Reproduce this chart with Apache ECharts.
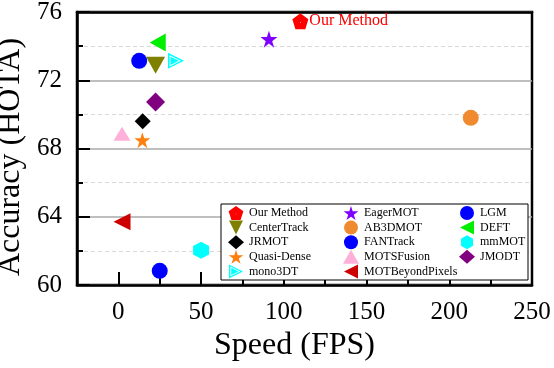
<!DOCTYPE html>
<html>
<head>
<meta charset="utf-8">
<script src="https://cdn.jsdelivr.net/npm/echarts@6/dist/echarts.min.js"></script>
<style>
  html, body { margin: 0; padding: 0; background: #fff; }
  #chart { width: 554px; height: 368px; }
</style>
</head>
<body>
<div id="chart"></div>
<script>
// 方法名、速度(FPS)、精度(HOTA)
const methods = ['Our Method', 'EagerMOT', 'LGM', 'CenterTrack', 'AB3DMOT', 'DEFT', 'JRMOT',
  'FANTrack', 'mmMOT', 'Quasi-Dense', 'MOTSFusion', 'JMODT', 'mono3DT', 'MOTBeyondPixels'];
const speed = [110, 91, 12.6, 22.5, 213, 23.8, 14.7, 25, 50, 14.5, 2.2, 22.5, 34.8, 2.2];
const hota = [75.46, 74.41, 73.14, 72.88, 69.8, 74.21, 69.6, 60.83, 62.03, 68.49, 68.86, 70.72, 73.14, 63.71];

const legendCols = [
  ['Our Method', 'CenterTrack', 'JRMOT', 'Quasi-Dense', 'mono3DT'],
  ['EagerMOT', 'AB3DMOT', 'FANTrack', 'MOTSFusion', 'MOTBeyondPixels'],
  ['LGM', 'DEFT', 'mmMOT', 'JMODT']
];

const SERIF = "'Liberation Serif', 'Times New Roman', serif";

const PENTAGON = 'path://M50,0 L97.6,34.5 L79.4,90.5 L20.6,90.5 L2.4,34.5 Z M48,50 L48,54 L52,54 L52,50 Z';
const STAR = 'path://M50,0 L61.2,34.5 L97.6,34.5 L68.2,55.9 L79.4,90.5 L50,69.1 L20.6,90.5 L31.8,55.9 L2.4,34.5 L38.8,34.5 Z';
const HEXAGON = 'path://M50,0 L93.3,25 L93.3,75 L50,100 L6.7,75 L6.7,25 Z';
const TRI_DOWN = 'path://M0,0 L10,0 L5,10 Z';
const TRI_LEFT = 'path://M10,0 L10,10 L0,5 Z';
const TRI_RIGHT_RING = 'path://M0,0 L10,5 L0,10 Z M1,1.5 L1,8.5 L8,5 Z M1.6,2.4 L6.8,5 L1.6,7.6 Z';

// 各方法的标记样式
const markerStyle = {
  'Our Method':      { symbol: PENTAGON, size: 16, color: '#ff0000' },
  'EagerMOT':        { symbol: STAR, size: 17, color: '#8000ff' },
  'LGM':             { symbol: 'circle', size: 16, color: '#0000ff' },
  'CenterTrack':     { symbol: TRI_DOWN, size: [19, 17], color: '#808000' },
  'AB3DMOT':         { symbol: 'circle', size: 16, color: '#f08a2e' },
  'DEFT':            { symbol: TRI_LEFT, size: [16, 18], color: '#00ee00' },
  'JRMOT':           { symbol: 'diamond', size: 16, color: '#000000' },
  'FANTrack':        { symbol: 'circle', size: 16, color: '#0000ff' },
  'mmMOT':           { symbol: HEXAGON, size: [16, 17], color: '#00ffff' },
  'Quasi-Dense':     { symbol: STAR, size: 16, color: '#ff7f0e' },
  'MOTSFusion':      { symbol: 'triangle', size: [17, 14], color: '#ffb0d8' },
  'JMODT':           { symbol: 'diamond', size: 19, color: '#800080' },
  'mono3DT':         { symbol: TRI_RIGHT_RING, size: 16, color: '#00ffff' },
  'MOTBeyondPixels': { symbol: TRI_LEFT, size: 17, color: '#cc0000' }
};

function renderChart() {
  const dom = document.getElementById('chart');
  const chart = echarts.init(dom, null, { renderer: 'canvas' });

  const series = methods.map(function (name, i) {
    const st = markerStyle[name];
    const s = {
      name: name,
      type: 'scatter',
      symbol: st.symbol,
      symbolSize: st.size,
      itemStyle: { color: st.color, opacity: 1 },
      data: [[speed[i], hota[i]]],
      z: 3
    };
    if (i === 0) {
      s.label = {
        show: true,
        position: 'right',
        distance: 1,
        formatter: name,
        color: '#ff0000',
        fontFamily: SERIF,
        fontSize: 16
      };
    }
    return s;
  });

  const legendLeft = [228, 343, 459];
  const legend = legendCols.map(function (col, i) {
    return {
      orient: 'vertical',
      left: legendLeft[i],
      top: 206,
      padding: 0,
      itemWidth: 16,
      itemHeight: 14,
      itemGap: 0.6,
      selectedMode: false,
      data: col,
      textStyle: { fontFamily: SERIF, fontSize: 12, color: '#000', lineHeight: 14 },
      z: 5
    };
  });

  const option = {
    animation: false,
    backgroundColor: '#fff',
    grid: {
      left: 77,
      top: 12,
      right: 22,
      bottom: 83,
      outerBoundsMode: 'none',
      containLabel: false,
      show: true,
      borderColor: '#000',
      borderWidth: 2.5,
      backgroundColor: 'transparent'
    },
    legend: legend,
    graphic: [
      {
        type: 'rect',
        z: 4,
        shape: { x: 221, y: 204, width: 307, height: 76 },
        style: { fill: '#fff', stroke: '#000', lineWidth: 1 }
      }
    ],
    xAxis: [
      {
        type: 'value',
        min: -25,
        max: 250,
        interval: 25,
        name: 'Speed (FPS)',
        nameLocation: 'middle',
        nameGap: 42,
        nameTextStyle: { fontFamily: SERIF, fontSize: 32, fontWeight: 'normal', color: '#000', padding: [0, 20, 0, 0] },
        axisLine: { show: true, onZero: false, lineStyle: { color: '#000', width: 2.5 } },
        axisTick: { show: true, inside: true, length: 13, lineStyle: { color: '#000', width: 2 } },
        axisLabel: {
          margin: 15,
          fontFamily: SERIF,
          fontSize: 25,
          color: '#000',
          formatter: function (v) { return v % 50 === 0 ? String(v) : ''; }
        },
        splitLine: { show: false }
      },
      {
        type: 'value',
        position: 'top',
        min: -25,
        max: 250,
        axisLine: { show: true, onZero: false, lineStyle: { color: '#000', width: 2.5 } },
        axisTick: { show: false },
        axisLabel: { show: false },
        splitLine: { show: false }
      }
    ],
    yAxis: {
      type: 'value',
      min: 60,
      max: 76,
      interval: 4,
      name: 'Accuracy (HOTA)',
      nameLocation: 'middle',
      nameGap: 49,
      nameTextStyle: { fontFamily: SERIF, fontSize: 32, fontWeight: 'normal', color: '#000', padding: [0, 17, 0, 0] },
      axisLine: { show: true, onZero: false, lineStyle: { color: '#000', width: 2.5 } },
      axisTick: { show: true, inside: true, length: 13, lineStyle: { color: '#000', width: 2 } },
      minorTick: { show: true, splitNumber: 2, length: 6, lineStyle: { color: '#000', width: 2 } },
      axisLabel: { margin: 15, fontFamily: SERIF, fontSize: 25, color: '#000' },
      splitLine: { show: true, lineStyle: { color: '#aaaaaa', width: 1.5 } },
      minorSplitLine: { show: true, lineStyle: { color: '#d9d9d9', width: 1, type: [4, 3] } }
    },
    series: series
  };
  chart.setOption(option, true);
}
renderChart();
</script>
</body>
</html>
